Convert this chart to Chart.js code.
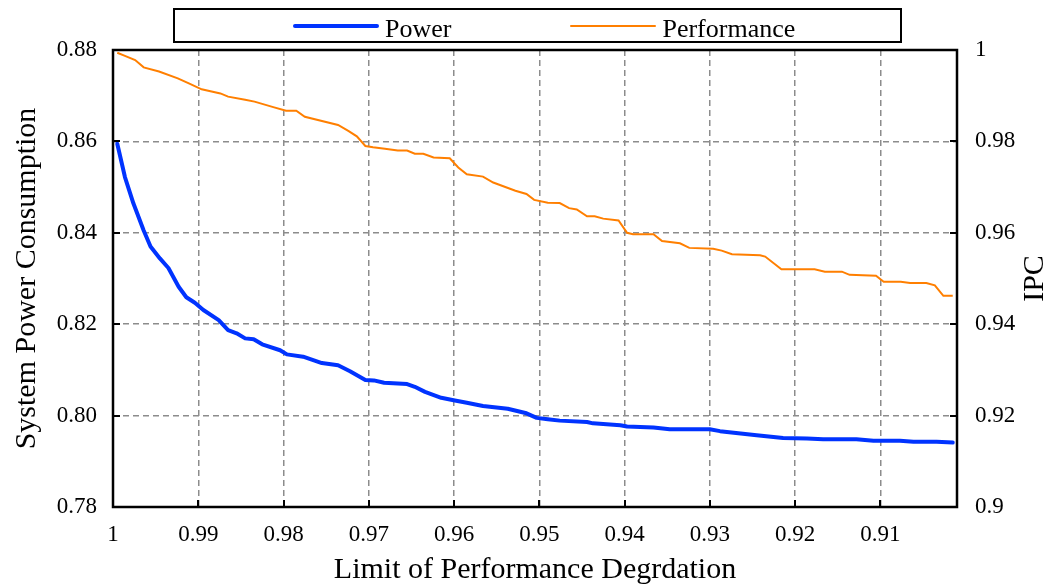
<!DOCTYPE html>
<html>
<head>
<meta charset="utf-8">
<script src="https://cdn.jsdelivr.net/npm/chart.js@4.4.1/dist/chart.umd.min.js"></script>
<style>
  body { margin: 0; background: #fff; }
  #wrap { position: relative; width: 1049px; height: 587px; }
  #legend {
    position: absolute; left: 173px; top: 8px; width: 729px; height: 35px;
    box-sizing: border-box; border: 2px solid #000; background: #fff;
    display: flex; align-items: center; padding-left: 118px;
    font-family: "Liberation Serif", serif; font-size: 26px; color: #000;
  }
  #legend .item { display: flex; align-items: center; }
  #legend .item + .item { margin-left: 119px; }
  #legend .swatch { width: 86px; border-radius: 3px; }
  #legend .label { margin-left: 6px; position: relative; top: 3px; }
</style>
</head>
<body>
<div id="wrap">
  <canvas id="chart"></canvas>
  <div id="legend"></div>
</div>
<script>
// x axis: performance degradation limit (reversed, 1 -> 0.90)
const xTicks = [1, 0.99, 0.98, 0.97, 0.96, 0.95, 0.94, 0.93, 0.92, 0.91];
const xTickLabels = ['1', '0.99', '0.98', '0.97', '0.96', '0.95', '0.94', '0.93', '0.92', '0.91'];

// left axis: system power, right axis: IPC
const powerTicks = [0.78, 0.80, 0.82, 0.84, 0.86, 0.88];
const powerTickLabels = ['0.78', '0.80', '0.82', '0.84', '0.86', '0.88'];
const ipcTicks = [0.90, 0.92, 0.94, 0.96, 0.98, 1.00];
const ipcTickLabels = ['0.9', '0.92', '0.94', '0.96', '0.98', '1'];

const powerX = [0.9995, 0.9986, 0.9976, 0.9964, 0.9956, 0.9945, 0.9935, 0.9923, 0.9914, 0.9904,
  0.9894, 0.9876, 0.9865, 0.9855, 0.9845, 0.9835, 0.9825, 0.9804, 0.9796, 0.9777,
  0.9755, 0.9736, 0.9722, 0.9704, 0.9694, 0.9682, 0.9655, 0.9646, 0.9634, 0.9615,
  0.9599, 0.9585, 0.9566, 0.9537, 0.9515, 0.9503, 0.9490, 0.9476, 0.9444, 0.9437,
  0.9405, 0.9397, 0.9366, 0.9347, 0.9300, 0.9288, 0.9245, 0.9214, 0.9186, 0.9167,
  0.9128, 0.9108, 0.9077, 0.9061, 0.9034, 0.9015];
const powerY = [0.8595, 0.8522, 0.8464, 0.8405, 0.8370, 0.8344, 0.8323, 0.8282, 0.8259, 0.8247,
  0.8231, 0.8209, 0.8187, 0.8180, 0.8169, 0.8167, 0.8156, 0.8143, 0.8134, 0.8129,
  0.8115, 0.8110, 0.8097, 0.8078, 0.8077, 0.8072, 0.8069, 0.8063, 0.8052, 0.8039,
  0.8033, 0.8028, 0.8021, 0.8015, 0.8005, 0.7995, 0.7992, 0.7989, 0.7986, 0.7983,
  0.7979, 0.7976, 0.7974, 0.7970, 0.7970, 0.7966, 0.7957, 0.7951, 0.7950, 0.7948,
  0.7948, 0.7945, 0.7945, 0.7943, 0.7943, 0.7941];

const perfX = [0.9995, 0.9986, 0.9974, 0.9964, 0.9946, 0.9924, 0.9911, 0.9896, 0.9874, 0.9865,
  0.9845, 0.9834, 0.9812, 0.9797, 0.9785, 0.9775, 0.9736, 0.9724, 0.9714, 0.9704,
  0.9695, 0.9681, 0.9666, 0.9655, 0.9646, 0.9636, 0.9624, 0.9605, 0.9595, 0.9585,
  0.9566, 0.9554, 0.9528, 0.9515, 0.9506, 0.9490, 0.9476, 0.9465, 0.9456, 0.9444,
  0.9435, 0.9425, 0.9407, 0.9397, 0.9390, 0.9366, 0.9356, 0.9335, 0.9324, 0.9296,
  0.9286, 0.9274, 0.9241, 0.9235, 0.9216, 0.9177, 0.9165, 0.9145, 0.9136, 0.9105,
  0.9096, 0.9076, 0.9065, 0.9046, 0.9036, 0.9026, 0.9015];
const perfY = [0.9994, 0.9987, 0.9978, 0.9962, 0.9953, 0.9938, 0.9927, 0.9914, 0.9905, 0.9898,
  0.9891, 0.9887, 0.9875, 0.9867, 0.9867, 0.9854, 0.9836, 0.9823, 0.9811, 0.9790,
  0.9787, 0.9784, 0.9780, 0.9780, 0.9773, 0.9773, 0.9765, 0.9763, 0.9743, 0.9728,
  0.9723, 0.9710, 0.9692, 0.9685, 0.9672, 0.9666, 0.9665, 0.9654, 0.9651, 0.9636,
  0.9636, 0.9631, 0.9627, 0.9600, 0.9597, 0.9597, 0.9582, 0.9577, 0.9567, 0.9565,
  0.9561, 0.9553, 0.9551, 0.9548, 0.9520, 0.9520, 0.9515, 0.9515, 0.9508, 0.9506,
  0.9493, 0.9493, 0.9490, 0.9490, 0.9485, 0.9462, 0.9462];

const FONT = 'Liberation Serif';
const GRID_COLOR = '#8c8c8c';
const RIGHT_TITLE = 'IPC';

const toPoints = (xs, ys) => xs.map((x, i) => ({ x: x, y: ys[i] }));
const labelFor = (values, labels) => (v) => {
  const i = values.findIndex(t => Math.abs(t - v) < 1e-9);
  return i >= 0 ? labels[i] : '';
};

// black frame around the plot with short inward tick marks,
// plus the right axis title turned to read bottom-to-top
const frame = {
  id: 'frame',
  afterDraw(chart) {
    const { ctx, chartArea: a, scales } = chart;
    const len = 7;
    ctx.save();
    ctx.strokeStyle = '#000';
    ctx.lineWidth = 2;
    ctx.beginPath();
    xTicks.forEach(v => {
      const px = Math.round(scales.x.getPixelForValue(v));
      ctx.moveTo(px, a.bottom); ctx.lineTo(px, a.bottom - len);
    });
    powerTicks.forEach(v => {
      const py = Math.round(scales.y.getPixelForValue(v));
      ctx.moveTo(a.left, py); ctx.lineTo(a.left + len, py);
    });
    ipcTicks.forEach(v => {
      const py = Math.round(scales.y2.getPixelForValue(v));
      ctx.moveTo(a.right, py); ctx.lineTo(a.right - len, py);
    });
    ctx.stroke();
    ctx.lineWidth = 2.5;
    ctx.strokeRect(a.left, a.top, a.right - a.left, a.bottom - a.top);

    const s = scales.y2;
    ctx.translate(s.right - 14, (a.top + a.bottom) / 2);
    ctx.rotate(-Math.PI / 2);
    ctx.fillStyle = '#000';
    ctx.font = '30px "' + FONT + '"';
    ctx.textAlign = 'center';
    ctx.textBaseline = 'middle';
    ctx.fillText(RIGHT_TITLE, 0, 0);
    ctx.restore();
  }
};

// boxed legend built from the datasets
const htmlLegend = {
  id: 'htmlLegend',
  afterUpdate(chart) {
    const box = document.getElementById('legend');
    box.innerHTML = '';
    chart.data.datasets.forEach(ds => {
      const item = document.createElement('div');
      item.className = 'item';
      const sw = document.createElement('span');
      sw.className = 'swatch';
      sw.style.background = ds.borderColor;
      sw.style.height = ds.borderWidth + 'px';
      const lb = document.createElement('span');
      lb.className = 'label';
      lb.textContent = ds.label;
      item.appendChild(sw);
      item.appendChild(lb);
      box.appendChild(item);
    });
  }
};

new Chart(document.getElementById('chart'), {
  type: 'line',
  data: {
    datasets: [
      {
        label: 'Power',
        data: toPoints(powerX, powerY),
        yAxisID: 'y',
        borderColor: '#0033ff',
        borderWidth: 4,
        borderJoinStyle: 'round',
        borderCapStyle: 'round',
        pointRadius: 0,
        tension: 0
      },
      {
        label: 'Performance',
        data: toPoints(perfX, perfY),
        yAxisID: 'y2',
        borderColor: '#ff7f00',
        borderWidth: 2,
        pointRadius: 0,
        tension: 0
      }
    ]
  },
  options: {
    responsive: true,
    maintainAspectRatio: false,
    animation: false,
    layout: { padding: { top: 50, left: 0, right: 0, bottom: 0 } },
    plugins: {
      legend: { display: false },
      tooltip: { enabled: false }
    },
    scales: {
      x: {
        type: 'linear',
        reverse: true,
        min: 0.901,
        max: 1,
        afterBuildTicks: (s) => { s.ticks = xTicks.map(v => ({ value: v })); },
        afterFit: (s) => { s.height = 80; },
        ticks: {
          callback: labelFor(xTicks, xTickLabels),
          color: '#000',
          padding: 14,
          maxRotation: 0,
          font: { family: FONT, size: 23 }
        },
        grid: { color: GRID_COLOR, lineWidth: 1.5, drawTicks: false },
        border: { display: false, dash: [6, 4] },
        title: {
          display: true,
          text: 'Limit of Performance Degrdation',
          color: '#000',
          font: { family: FONT, size: 30, lineHeight: 1 },
          padding: { top: 0, bottom: 2 }
        }
      },
      y: {
        position: 'left',
        min: 0.78,
        max: 0.88,
        afterBuildTicks: (s) => { s.ticks = powerTicks.map(v => ({ value: v })); },
        afterFit: (s) => { s.width = 113; },
        ticks: {
          callback: labelFor(powerTicks, powerTickLabels),
          color: '#000',
          padding: 16,
          font: { family: FONT, size: 23 }
        },
        grid: { color: GRID_COLOR, lineWidth: 1.5, drawTicks: false },
        border: { display: false, dash: [6, 4] },
        title: {
          display: true,
          text: 'System Power Consumption',
          color: '#000',
          font: { family: FONT, size: 30, lineHeight: 1 },
          padding: { top: 12, bottom: 0 }
        }
      },
      y2: {
        position: 'right',
        min: 0.9,
        max: 1,
        afterBuildTicks: (s) => { s.ticks = ipcTicks.map(v => ({ value: v })); },
        afterFit: (s) => { s.width = 92; },
        ticks: {
          callback: labelFor(ipcTicks, ipcTickLabels),
          color: '#000',
          padding: 18,
          font: { family: FONT, size: 23 }
        },
        grid: { display: false, drawTicks: false },
        border: { display: false }
      }
    }
  },
  plugins: [frame, htmlLegend]
});
</script>
</body>
</html>
